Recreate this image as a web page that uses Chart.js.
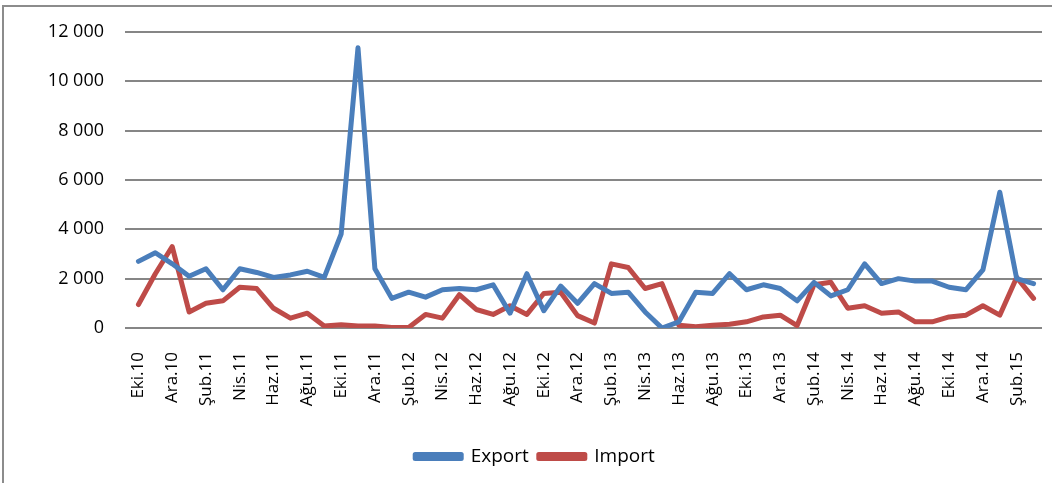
<!DOCTYPE html>
<html>
<head>
<meta charset="utf-8">
<script src="https://cdn.jsdelivr.net/npm/chart.js@4.4.1/dist/chart.umd.min.js"></script>
<style>
  html, body { margin: 0; padding: 0; background: #ffffff; }
  #wrap { position: relative; width: 1052px; height: 483px; overflow: hidden; }
  #frame { position: absolute; left: 2px; top: 5px; width: 1100px; height: 600px;
           border-left: 2px solid #8c8c8c; border-top: 2px solid #8c8c8c; box-sizing: border-box; }
  canvas { position: absolute; left: 0; top: 0; }
</style>
</head>
<body>
<div id="wrap">
  <div id="frame"></div>
  <canvas id="c" width="1052" height="483"></canvas>
</div>
<script>
const months = [
  "Eki.10","Kas.10","Ara.10",
  "Oca.11","Şub.11","Mar.11","Nis.11","May.11","Haz.11","Tem.11","Ağu.11","Eyl.11","Eki.11","Kas.11","Ara.11",
  "Oca.12","Şub.12","Mar.12","Nis.12","May.12","Haz.12","Tem.12","Ağu.12","Eyl.12","Eki.12","Kas.12","Ara.12",
  "Oca.13","Şub.13","Mar.13","Nis.13","May.13","Haz.13","Tem.13","Ağu.13","Eyl.13","Eki.13","Kas.13","Ara.13",
  "Oca.14","Şub.14","Mar.14","Nis.14","May.14","Haz.14","Tem.14","Ağu.14","Eyl.14","Eki.14","Kas.14","Ara.14",
  "Oca.15","Şub.15","Mar.15"
];
const exportValues = [
  2700, 3050, 2600,
  2100, 2400, 1550, 2400, 2250, 2050, 2150, 2300, 2050, 3800, 11350, 2400,
  1200, 1450, 1250, 1550, 1600, 1550, 1750, 600, 2200, 700, 1700, 1000,
  1800, 1400, 1450, 650, 0, 250, 1450, 1400, 2200, 1550, 1750, 1600,
  1100, 1850, 1300, 1550, 2600, 1800, 2000, 1900, 1900, 1650, 1550, 2350,
  5500, 2000, 1800
];
const importValues = [
  950, 2200, 3300,
  650, 1000, 1100, 1650, 1600, 800, 400, 600, 80, 130, 80, 80,
  20, 20, 550, 400, 1350, 750, 550, 900, 550, 1400, 1450, 500,
  200, 2600, 2450, 1600, 1800, 110, 50, 110, 150, 250, 450, 520,
  100, 1750, 1850, 800, 900, 600, 650, 250, 250, 450, 520, 900,
  520, 2050, 1200
];
const yTicks = [0, 2000, 4000, 6000, 8000, 10000, 12000];
const seriesNames = ["Export", "Import"];

const FONT = "'Open Sans', 'Liberation Sans', sans-serif";
const fmt = v => String(v).replace(/\B(?=(\d{3})+(?!\d))/g, ' ');

new Chart(document.getElementById('c'), {
  type: 'line',
  data: {
    labels: months,
    datasets: [
      { label: seriesNames[0], data: exportValues, borderColor: '#4A7EBB', backgroundColor: '#4A7EBB',
        borderWidth: 5, pointRadius: 0, tension: 0, borderJoinStyle: 'round', borderCapStyle: 'round' },
      { label: seriesNames[1], data: importValues, borderColor: '#BE4B48', backgroundColor: '#BE4B48',
        borderWidth: 5, pointRadius: 0, tension: 0, borderJoinStyle: 'round', borderCapStyle: 'round' }
    ]
  },
  options: {
    responsive: false,
    animation: false,
    events: [],
    layout: { padding: { top: 30, left: 28, right: 10, bottom: 7 } },
    plugins: {
      tooltip: { enabled: false },
      legend: {
        position: 'bottom',
        labels: {
          boxWidth: 46, boxHeight: 4, padding: 10,
          color: '#000000',
          font: { family: FONT, size: 19 }
        }
      }
    },
    scales: {
      x: {
        offset: true,
        grid: { display: false, drawTicks: false },
        border: { display: false },
        ticks: {
          autoSkip: false, minRotation: 90, maxRotation: 90, padding: 24,
          color: '#000000', font: { family: FONT, size: 17 },
          callback: function(v, i) { return i % 2 === 0 ? months[i] : ''; }
        },
        afterFit: s => { s.height = 109; s.paddingLeft = 0; s.paddingRight = 0; }
      },
      y: {
        min: 0, max: 12000,
        afterBuildTicks: s => { s.ticks = yTicks.map(v => ({ value: v })); },
        grid: { color: '#868686', lineWidth: 2, tickLength: 5, drawTicks: true, tickColor: '#868686' },
        border: { display: false },
        ticks: { padding: 21, color: '#000000', font: { family: FONT, size: 18 }, callback: v => fmt(v) },
        afterFit: s => { s.width = 102; }
      }
    }
  }
});
</script>
</body>
</html>
